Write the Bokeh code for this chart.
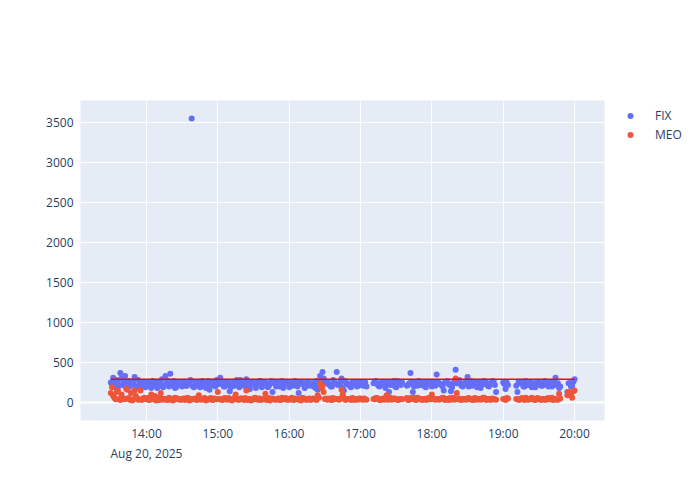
import pandas as pd
from bokeh.plotting import figure
from bokeh.models import (Range1d, FixedTicker, DatetimeTickFormatter, Legend,
                          LegendItem, Span)
from bokeh.embed import file_html
from bokeh.resources import INLINE

# ---------------- data ----------------
date = "2025-08-20"
# samples on even minutes
times_a = [
    "13:30", "13:32", "13:34", "13:36", "13:38", "13:40", "13:42", "13:44", "13:46", "13:48",
    "13:50", "13:52", "13:54", "13:56", "13:58",
    "14:00", "14:02", "14:04", "14:06", "14:08", "14:10", "14:12", "14:14", "14:16", "14:18",
    "14:20", "14:22", "14:24", "14:26", "14:28", "14:30", "14:32", "14:34", "14:36", "14:38",
    "14:40", "14:42", "14:44", "14:46", "14:48", "14:50", "14:52", "14:54", "14:56", "14:58",
    "15:00", "15:02", "15:04", "15:06", "15:08", "15:10", "15:12", "15:14", "15:16", "15:18",
    "15:20", "15:22", "15:24", "15:26", "15:28", "15:30", "15:32", "15:34", "15:36", "15:38",
    "15:40", "15:42", "15:44", "15:46", "15:48", "15:50", "15:52", "15:54", "15:56", "15:58",
    "16:00", "16:02", "16:04", "16:06", "16:08", "16:10", "16:12", "16:14", "16:16", "16:18",
    "16:20", "16:22", "16:24", "16:26", "16:28", "16:30", "16:32", "16:34", "16:36", "16:38",
    "16:40", "16:42", "16:44", "16:46", "16:48", "16:50", "16:52", "16:54", "16:56", "16:58",
    "17:00", "17:02", "17:04", "17:12", "17:14", "17:16", "17:18", "17:20", "17:22", "17:24",
    "17:26", "17:28", "17:30", "17:32", "17:34", "17:40", "17:42", "17:44", "17:46", "17:48",
    "17:50", "17:52", "17:54", "17:56", "17:58",
    "18:00", "18:02", "18:04", "18:06", "18:08", "18:10", "18:12", "18:14", "18:16", "18:18",
    "18:20", "18:22", "18:24", "18:26", "18:28", "18:30", "18:32", "18:34", "18:36", "18:38",
    "18:40", "18:42", "18:44", "18:46", "18:48", "18:50", "18:52", "18:54",
    "19:00", "19:02", "19:04", "19:12", "19:14", "19:16", "19:18", "19:20", "19:22", "19:24",
    "19:26", "19:28", "19:30", "19:32", "19:34", "19:36", "19:38", "19:40", "19:42", "19:44",
    "19:46", "19:48", "19:54", "19:56", "19:58", "20:00",
]
fix_a = [
    250, 310, 190, 240, 370, 220, 330, 260, 200, 230, 320, 180, 240, 210, 260,
    210, 250, 180, 230, 260, 200, 240, 190, 330, 270, 360, 220, 180, 250, 230,
    200, 260, 210, 240, 3550, 190, 230, 260, 200, 240, 180, 270, 220, 250, 200,
    250, 310, 230, 200, 260, 140, 240, 210, 280, 190, 250, 220, 290, 200, 240,
    260, 180, 230, 270, 210, 250, 190, 240, 130, 260, 220, 200, 270, 230, 250,
    190, 250, 220, 240, 120, 260, 230, 200, 250, 210, 240, 180, 160, 330, 380,
    240, 260, 220, 200, 250, 380, 230, 300, 150, 250, 220, 190, 240, 260, 210,
    240, 210, 250, 260, 230, 200, 250, 220, 240, 130, 240, 270, 190, 250, 220,
    220, 370, 130, 250, 210, 260, 230, 200, 250, 240,
    200, 250, 350, 240, 220, 150, 260, 230, 140, 240, 410, 250, 230, 200, 250,
    320, 240, 210, 260, 190, 250, 220, 270, 240, 200, 230, 260, 130,
    250, 170, 220, 130, 240, 260, 200, 230, 250, 190, 240, 220, 260, 210, 240,
    230, 200, 250, 220, 310, 240, 200, 130, 240, 210, 290,
]
meo_a = [
    120, 80, 40, 150, 30, 55, 45, 160, 35, 25, 150, 50, 40, 30, 60,
    40, 30, 100, 45, 25, 55, 120, 35, 40, 30, 50, 25, 60, 40, 35,
    45, 30, 55, 25, 40, 45, 30, 90, 35, 50, 25, 40, 55, 30, 45,
    130, 40, 30, 55, 35, 45, 25, 60, 40, 35, 50, 30, 150, 45, 25,
    40, 55, 35, 30, 45, 110, 40, 25, 50, 35, 45, 30, 60, 40, 35,
    35, 60, 30, 45, 40, 25, 55, 35, 45, 30, 50, 40, 90, 240, 200,
    45, 35, 50, 30, 40, 45, 35, 160, 55, 35, 45, 30, 50, 40, 35,
    50, 35, 40, 40, 55, 30, 45, 35, 90, 40, 35, 50, 40, 30, 45,
    30, 55, 45, 35, 60, 40, 30, 45, 35, 50,
    100, 40, 45, 35, 50, 55, 40, 30, 35, 60, 300, 45, 30, 35, 45,
    50, 40, 30, 55, 35, 45, 40, 60, 30, 45, 35, 40, 35,
    45, 30, 50, 40, 35, 55, 30, 45, 40, 60, 35, 50, 40, 30, 45,
    35, 55, 40, 30, 45, 35, 50, 90, 120, 60, 150,
]
# samples on odd minutes
times_b = [
    "13:31", "13:33", "13:35", "13:37", "13:39", "13:41", "13:43", "13:45", "13:47", "13:49",
    "13:51", "13:53", "13:55", "13:57", "13:59",
    "14:01", "14:03", "14:05", "14:07", "14:09", "14:11", "14:13", "14:15", "14:17", "14:19",
    "14:21", "14:23", "14:25", "14:27", "14:29", "14:31", "14:33", "14:35", "14:37", "14:39",
    "14:41", "14:43", "14:45", "14:47", "14:49", "14:51", "14:53", "14:55", "14:57", "14:59",
    "15:01", "15:03", "15:05", "15:07", "15:09", "15:11", "15:13", "15:15", "15:17", "15:19",
    "15:21", "15:23", "15:25", "15:27", "15:29", "15:31", "15:33", "15:35", "15:37", "15:39",
    "15:41", "15:43", "15:45", "15:47", "15:49", "15:51", "15:53", "15:55", "15:57", "15:59",
    "16:01", "16:03", "16:05", "16:07", "16:09", "16:11", "16:13", "16:15", "16:17", "16:19",
    "16:21", "16:23", "16:25", "16:27", "16:29", "16:31", "16:33", "16:35", "16:37", "16:39",
    "16:41", "16:43", "16:45", "16:47", "16:49", "16:51", "16:53", "16:55", "16:57", "16:59",
    "17:01", "17:03", "17:05", "17:11", "17:13", "17:15", "17:17", "17:19", "17:21", "17:23",
    "17:25", "17:27", "17:29", "17:31", "17:33", "17:35", "17:39", "17:41", "17:43", "17:45",
    "17:47", "17:49", "17:51", "17:53", "17:55", "17:57", "17:59",
    "18:01", "18:03", "18:05", "18:07", "18:09", "18:11", "18:13", "18:15", "18:17", "18:19",
    "18:21", "18:23", "18:25", "18:27", "18:29", "18:31", "18:33", "18:35", "18:37", "18:39",
    "18:41", "18:43", "18:45", "18:47", "18:49", "18:51", "18:53",
    "19:01", "19:03", "19:11", "19:13", "19:15", "19:17", "19:19", "19:21", "19:23", "19:25",
    "19:27", "19:29", "19:31", "19:33", "19:35", "19:37", "19:39", "19:41", "19:43", "19:45",
    "19:47", "19:55", "19:57", "19:59",
]
fix_b = [
    220, 260, 280, 210, 300, 250, 190, 270, 230, 260, 200, 280, 220, 250, 190,
    240, 200, 270, 220, 180, 250, 290, 210, 240, 200, 230, 270, 190, 250, 220,
    260, 210, 240, 280, 200, 250, 230, 190, 270, 220, 240, 160, 260, 210, 280,
    230, 270, 200, 250, 220, 190, 260, 240, 210, 280, 230, 200, 250, 170, 260,
    220, 240, 270, 190, 250, 230, 210, 270, 240, 200, 260, 220, 180, 250, 230,
    240, 210, 270, 200, 250, 230, 180, 260, 220, 240, 200, 270, 210, 250, 300,
    260, 230, 200, 280, 240, 220, 250, 190, 270, 230, 210, 250, 240, 200, 260,
    220, 250, 200, 240, 270, 210, 230, 260, 180, 250, 220, 240, 200, 270, 230,
    250, 210, 240, 260, 200, 230, 270, 220, 250, 190, 240, 260,
    240, 210, 260, 230, 200, 250, 270, 220, 190, 260, 240, 280, 210, 230, 250,
    200, 270, 220, 240, 260, 180, 230, 250, 210, 240, 270, 220,
    230, 250, 210, 260, 240, 200, 270, 220, 250, 230, 190, 260, 240, 210, 270,
    230, 250, 200, 260, 220, 180, 240, 200, 260,
]
meo_b = [
    190, 60, 130, 45, 100, 40, 170, 55, 120, 40, 80, 35, 150, 45, 50,
    55, 35, 45, 80, 40, 30, 50, 45, 35, 60, 40, 30, 55, 45, 35,
    50, 40, 55, 30, 45, 50, 35, 45, 40, 55, 30, 45, 35, 50, 40,
    45, 35, 50, 40, 55, 30, 45, 100, 35, 50, 40, 55, 30, 45, 35,
    60, 40, 50, 35, 45, 30, 55, 40, 45, 35, 50, 30, 45, 55, 40,
    45, 35, 50, 40, 30, 55, 45, 35, 50, 40, 45, 30, 60, 180, 130,
    50, 40, 35, 55, 45, 40, 50, 100, 35, 45, 40, 55, 30, 45, 50,
    40, 50, 35, 45, 55, 40, 30, 50, 45, 35, 60, 40, 50, 35, 45,
    40, 55, 35, 45, 60, 30, 50, 40, 45, 35, 55, 40,
    50, 35, 45, 40, 60, 30, 45, 55, 40, 35, 120, 50, 40, 45, 35,
    55, 40, 30, 50, 45, 35, 60, 40, 45, 35, 50, 40,
    40, 55, 45, 35, 50, 40, 60, 35, 45, 50, 30, 55, 40, 45, 35,
    50, 40, 60, 45, 35, 110, 130, 90, 140,
]
threshold = 290
x_tick_labels = ["14:00", "15:00", "16:00", "17:00", "18:00", "19:00", "20:00"]
y_ticks = [0, 500, 1000, 1500, 2000, 2500, 3000, 3500]
series_names = ["FIX", "MEO"]

assert len(times_a) == len(fix_a) == len(meo_a), (len(times_a), len(fix_a), len(meo_a))
assert len(times_b) == len(fix_b) == len(meo_b), (len(times_b), len(fix_b), len(meo_b))

# ---------------- figure ----------------
df = pd.DataFrame({
    "time": pd.to_datetime([f"{date} {s}" for s in times_a + times_b]),
    "fix": fix_a + fix_b,
    "meo": meo_a + meo_b,
}).sort_values("time")
tick_ms = [pd.Timestamp(f"{date} {s}").value / 1e6 for s in x_tick_labels]

FONT = "Open Sans"
TXT = "#2a3f5f"

p = figure(frame_width=524, frame_height=320, output_backend="svg", toolbar_location=None,
           x_axis_type="datetime",
           x_range=Range1d(pd.Timestamp(f"{date} 13:04:30"), pd.Timestamp(f"{date} 20:25:12")),
           y_range=Range1d(-225, 3775),
           min_border_left=80, min_border_right=80, min_border_top=100, min_border_bottom=64)
p.background_fill_color = "#E5ECF6"
p.border_fill_color = "white"
p.outline_line_color = None

p.xaxis.ticker = FixedTicker(ticks=tick_ms)
p.yaxis.ticker = FixedTicker(ticks=y_ticks)
p.xaxis.formatter = DatetimeTickFormatter(hours="%H:%M", minutes="%H:%M", hourmin="%H:%M",
                                          context="%b %d, %Y", context_which="start")
for ax in (p.xaxis, p.yaxis):
    ax.axis_line_color = None
    ax.major_tick_line_color = None
    ax.minor_tick_line_color = None
    ax.major_tick_out = 0
    ax.major_tick_in = 0
    ax.major_label_text_font = FONT
    ax.major_label_text_font_size = "12px"
    ax.major_label_text_color = TXT
p.xaxis.major_label_standoff = 4
p.yaxis.major_label_standoff = 7

p.grid.grid_line_color = "white"
p.grid.grid_line_width = 1
p.add_layout(Span(location=0, dimension="width", line_color="white",
                  line_width=2, level="underlay"))

r_fix = p.scatter(df["time"], df["fix"], size=6, color="#636efa", line_color=None)
r_meo = p.scatter(df["time"], df["meo"], size=6, color="#EF553B", line_color=None)
t0, t1 = df["time"].iloc[0], df["time"].iloc[-1]
p.line([t0, t1], [threshold, threshold], line_color="red", line_width=1.5)

legend = Legend(items=[LegendItem(label=series_names[0], renderers=[r_fix]),
                       LegendItem(label=series_names[1], renderers=[r_meo])],
                location=(16, 276))
legend.padding = 0
legend.margin = 0
legend.spacing = 0
legend.glyph_width = 20
legend.glyph_height = 15
legend.label_height = 19
legend.label_standoff = 15
legend.border_line_color = None
legend.background_fill_alpha = 0
legend.label_text_font = FONT
legend.label_text_font_size = "12px"
legend.label_text_color = TXT
p.add_layout(legend, "right")

open("out.html", "w").write(file_html(p, INLINE))
